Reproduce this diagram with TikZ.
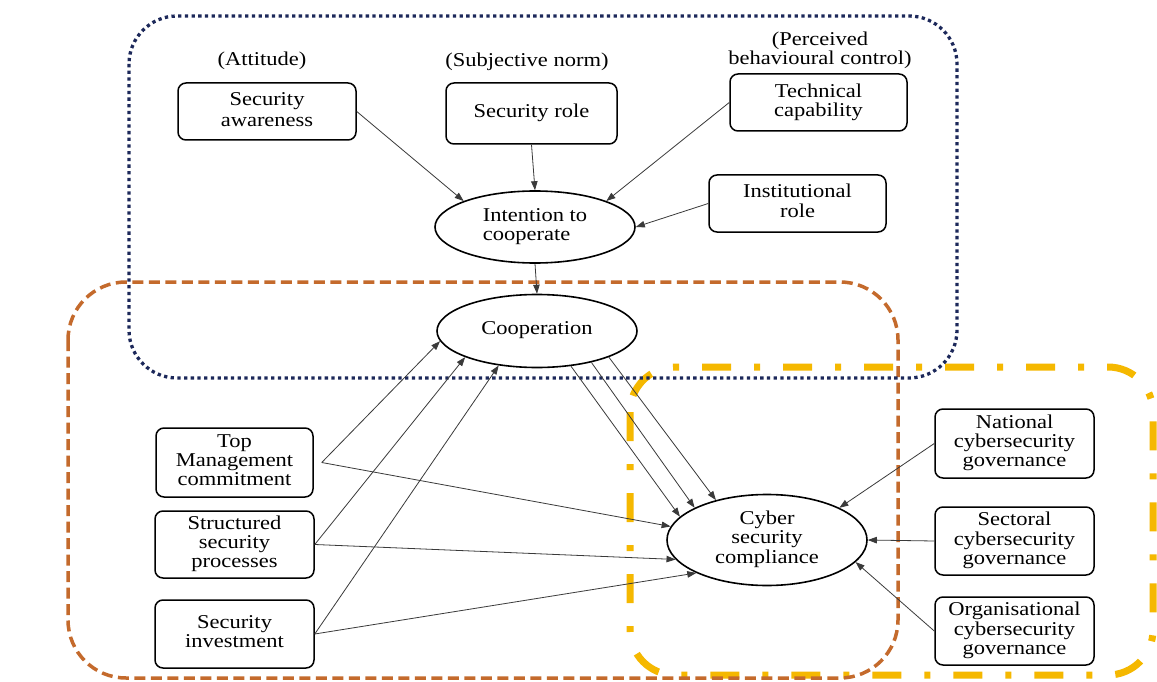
\documentclass[tikz,border=0pt]{standalone}
\usepackage{fontspec}
\usepackage{graphicx}
\setmainfont{Liberation Serif}
\usetikzlibrary{arrows.meta,shapes.geometric}
\definecolor{navyc}{HTML}{1C285A}
\definecolor{orangec}{HTML}{C46A2C}
\definecolor{yellowc}{HTML}{F5B800}
\definecolor{linec}{HTML}{3A3A3A}
% squat text block, as in the reference
\newcommand{\tx}[2][22]{\scalebox{1}[0.87]{\fontsize{22.5}{#1}\selectfont\begin{tabular}{@{}c@{}}#2\end{tabular}}}
\newcommand{\txl}[2][22]{\scalebox{1}[0.87]{\fontsize{22.5}{#1}\selectfont\begin{tabular}{@{}l@{}}#2\end{tabular}}}
\begin{document}
\begin{tikzpicture}[x=1pt,y=-1pt,
  every node/.style={font=\fontsize{22.5}{22}\selectfont},
  boxn/.style={draw=black, line width=1.5pt, rounded corners=8pt, fill=white, align=center, inner sep=0pt},
  elln/.style={draw=black, line width=1.6pt, ellipse, fill=white, inner sep=0pt, align=center},
  conn/.style={draw=linec, line width=0.8pt, -{Triangle[length=9pt,width=6.5pt]}},
  navybox/.style={draw=navyc, line width=3.3pt, dash pattern=on 3.3pt off 3.4pt, rounded corners=48pt},
  orbox/.style={draw=orangec, line width=3.5pt, dash pattern=on 11pt off 5.5pt, rounded corners=58pt},
  yelbox/.style={draw=yellowc, line width=7pt, dash pattern=on 29pt off 23pt on 6pt off 23pt, rounded corners=45pt},
  lbl/.style={align=center, inner sep=0pt}
]
\fill[white] (0,0) rectangle (1157,682);
\useasboundingbox (0,0) rectangle (1157,682);

% group containers
\draw[yelbox] (630,367) rectangle (1153,675);
\draw[orbox] (68,282) rectangle (898,678);
\draw[navybox] (129,16) rectangle (957,378);

% labels
\node[lbl] (latt) at (262,62) {\tx{(Attitude)}};
\node[lbl] (lsub) at (527,63) {\tx{(Subjective norm)}};
\node[lbl] (lpbc) at (820,51) {\tx[20.5]{(Perceived\\behavioural control)}};

% top boxes
\node[boxn, minimum width=178pt, minimum height=57pt] (aw) at (267,111.5) {\tx[24]{Security\\awareness}};
\node[boxn, minimum width=171pt, minimum height=61pt] (role) at (531.5,113.5) {\tx{Security role}};
\node[boxn, minimum width=177pt, minimum height=57pt] (tech) at (818.5,102.5) {\tx[20.5]{Technical\\capability}};
\node[boxn, minimum width=177pt, minimum height=57pt] (inst) at (797.5,203.5) {\tx{Institutional\\role}};

% ellipses
\node[elln, minimum width=200pt, minimum height=72pt] (int) at (535,227) {\txl[21.5]{Intention to\\cooperate}};
\node[elln, minimum width=200pt, minimum height=73pt] (coop) at (537,331) {\tx{Cooperation}};
\node[elln, minimum width=200pt, minimum height=91pt] (cy) at (767,540) {\tx{Cyber\\security\\compliance}};

% left boxes
\node[boxn, minimum width=157pt, minimum height=69pt] (tm) at (234.5,462.5) {\tx{Top\\Management\\commitment}};
\node[boxn, minimum width=159pt, minimum height=67pt] (ssp) at (234.5,544.5) {\tx{Structured\\security\\processes}};
\node[boxn, minimum width=159pt, minimum height=68pt] (inv) at (234.5,634) {\tx{Security\\investment}};

% right boxes
\node[boxn, minimum width=159pt, minimum height=69pt] (nat) at (1014.5,443.5) {\tx{National\\cybersecurity\\governance}};
\node[boxn, minimum width=159pt, minimum height=68pt] (sec) at (1014.5,541) {\tx{Sectoral\\cybersecurity\\governance}};
\node[boxn, minimum width=159pt, minimum height=68pt] (org) at (1014.5,631) {\tx{Organisational\\cybersecurity\\governance}};

% connectors
\draw[conn] (aw.east) -- (int.160);
\draw[conn] (role.south) -- (int.north);
\draw[conn] (tech.west) -- (int.20);
\draw[conn] (inst.west) -- (int.east);
\draw[conn] (int.south) -- (coop.north);

\draw[conn] ([xshift=8pt]tm.east) -- (coop.186);
\draw[conn] (ssp.east) -- (coop.200);
\draw[conn] (inv.east) -- (coop.222);
\draw[conn] ([xshift=8pt]tm.east) -- (cy.172);
\draw[conn] (ssp.east) -- (cy.192);
\draw[conn] (inv.east) -- (cy.205);

\draw[conn] (coop.314) -- (cy.165);
\draw[conn] (coop.330) -- (cy.156);
\draw[conn] (coop.340) -- (cy.142);

\draw[conn] (nat.west) -- (cy.24);
\draw[conn] (sec.west) -- (cy.east);
\draw[conn] (org.west) -- (cy.-14);
\end{tikzpicture}
\end{document}
